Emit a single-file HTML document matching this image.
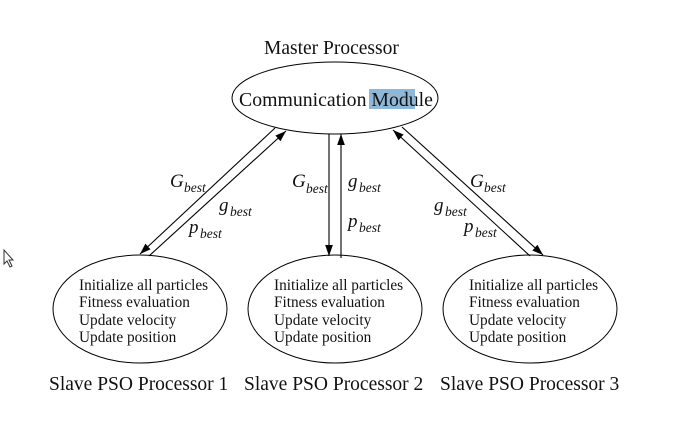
<!DOCTYPE html>
<html><head><style>
body{margin:0;background:#fff;}
svg{display:block;}
text{font-family:"Liberation Serif",serif;fill:#111;}
.s{font-size:15.3px;}
.l{font-size:19.5px;}
.g{font-size:19px;font-style:italic;}
.sub{font-size:13.5px;font-style:italic;}
</style></head><body>
<svg width="682" height="432" viewBox="0 0 682 432">
<defs>
<marker id="a" viewBox="0 0 10 10" refX="10" refY="5" markerWidth="11" markerHeight="11" markerUnits="userSpaceOnUse" orient="auto"><path d="M0,1.5 L10,5 L0,8.5z" fill="#000"/></marker>
</defs>
<path d="M4,250 L4,264 L7,261 L10,267 L12,266 L9,260 L13,260 Z" fill="#fff" stroke="#333" stroke-width="1"/>
<text x="264" y="54" class="l">Master Processor</text>
<ellipse cx="335" cy="98" rx="103" ry="36" fill="none" stroke="#000" stroke-width="1"/>
<rect x="369" y="89" width="46" height="20" fill="#8fb8d8"/>
<text x="239" y="106" class="l" style="font-size:19.8px">Communication Module</text>
<g stroke="#000" stroke-width="1.1">
<line x1="275" y1="128" x2="140" y2="254" marker-end="url(#a)"/>
<line x1="149" y1="256" x2="286" y2="131" marker-end="url(#a)"/>
<line x1="329" y1="134" x2="329" y2="256" marker-end="url(#a)"/>
<line x1="341" y1="258" x2="341" y2="134" marker-end="url(#a)"/>
<line x1="530" y1="256" x2="393" y2="130" marker-end="url(#a)"/>
<line x1="402" y1="127" x2="543" y2="255" marker-end="url(#a)"/>
</g>
<text x="170" y="187" class="g">G</text><text x="184" y="192" class="sub">best</text>
<text x="219" y="211" class="g">g</text><text x="230" y="216" class="sub">best</text>
<text x="189" y="233" class="g">p</text><text x="200" y="238" class="sub">best</text>
<text x="292" y="187" class="g">G</text><text x="306" y="193" class="sub">best</text>
<text x="348" y="187" class="g">g</text><text x="359" y="192" class="sub">best</text>
<text x="348" y="227" class="g">p</text><text x="359" y="232" class="sub">best</text>
<text x="470" y="187" class="g">G</text><text x="484" y="192" class="sub">best</text>
<text x="434" y="211" class="g">g</text><text x="445" y="216" class="sub">best</text>
<text x="464" y="232" class="g">p</text><text x="475" y="237" class="sub">best</text>
<g fill="none" stroke="#000" stroke-width="1">
<ellipse cx="140" cy="309" rx="87" ry="54"/>
<ellipse cx="335" cy="309" rx="87" ry="54"/>
<ellipse cx="530" cy="309" rx="87" ry="54"/>
</g>
<text x="79" y="290" class="s">Initialize all particles</text>
<text x="79" y="307" class="s">Fitness evaluation</text>
<text x="79" y="325" class="s">Update velocity</text>
<text x="79" y="342" class="s">Update position</text>
<text x="274" y="290" class="s">Initialize all particles</text>
<text x="274" y="307" class="s">Fitness evaluation</text>
<text x="274" y="325" class="s">Update velocity</text>
<text x="274" y="342" class="s">Update position</text>
<text x="469" y="290" class="s">Initialize all particles</text>
<text x="469" y="307" class="s">Fitness evaluation</text>
<text x="469" y="325" class="s">Update velocity</text>
<text x="469" y="342" class="s">Update position</text>
<text x="49" y="390" class="l">Slave PSO Processor 1</text>
<text x="244" y="390" class="l">Slave PSO Processor 2</text>
<text x="440" y="390" class="l">Slave PSO Processor 3</text>
</svg>
</body></html>
